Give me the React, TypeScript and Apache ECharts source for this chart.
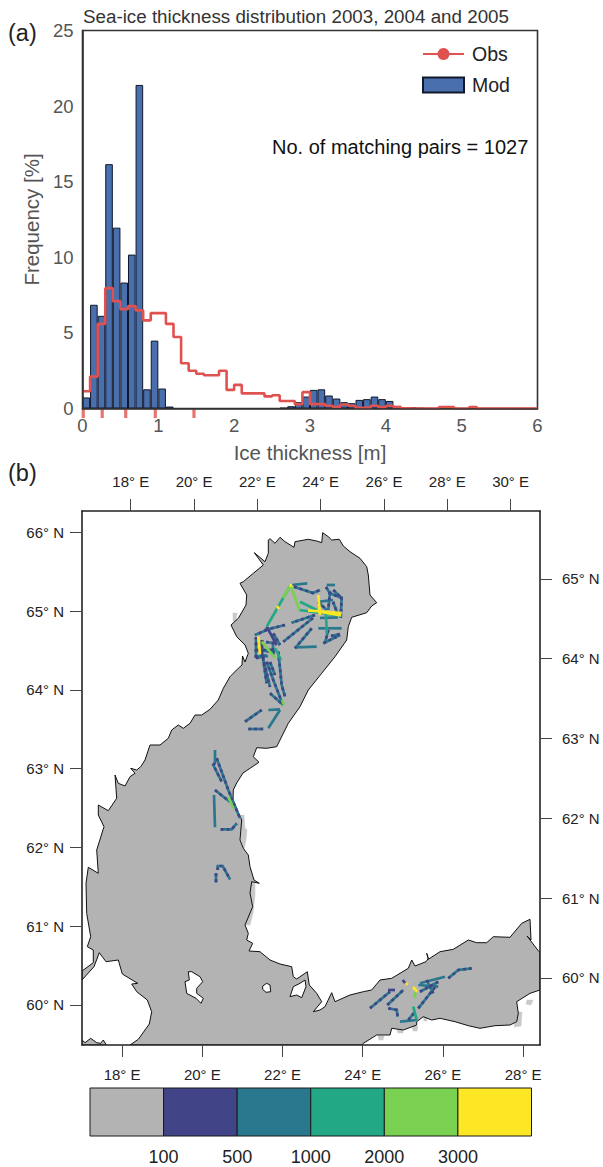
import React, { useEffect, useRef } from "react";
import * as echarts from "echarts";

const FONT = "'Liberation Sans', Arial, sans-serif";
const RED = "#e0524f";
const BLUE = "#4a6fad";

// ---------- panel (a) ----------
const binLefts = [0,0.1,0.2,0.3,0.4,0.5,0.6,0.7,0.8,0.9,1,1.1,1.2,1.3,1.4,1.5,1.6,1.7,1.8,1.9,2,2.1,2.2,2.3,2.4,2.5,2.6,2.7,2.8,2.9,3,3.1,3.2,3.3,3.4,3.5,3.6,3.7,3.8,3.9,4,4.1,4.2,4.3,4.4,4.5,4.6,4.7,4.8,4.9,5,5.1,5.2];
const modFreq = [0.73,6.86,6.13,16.16,11.96,8.33,10.18,21.4,1.27,4.49,1.32,0.13,0,0,0,0,0,0,0,0,0,0,0,0,0,0,0.04,0.15,0.42,0.79,1.23,1.27,0.86,0.66,0.42,0.35,0.57,0.62,0.79,0.62,0.5,0.17,0.06,0.09,0.02,0,0,0,0,0,0,0,0];
const obsFreq = [1.14,2.11,5.6,7.96,7.1,6.57,6.77,6.49,5.83,6.31,6.31,5.6,4.73,2.99,2.5,2.3,2.2,2.2,2.5,1.23,1.56,1,1,1,0.8,0.88,0.5,0.5,0.29,1.08,0.29,0.29,0.18,0.11,0.26,0.18,0.04,0.04,0.18,0.09,0.18,0.09,0.02,0,0,0,0,0.1,0.1,0,0,0.1,0];
const rugValues = [0.01, 0.26, 0.57, 0.96, 1.47];

// ---------- panel (b): outlines and tracks, in projected map units ----------
const lonBottomTicks = [18,20,22,24,26,28];
const lonTopTicks = [18,20,22,24,26,28,30];
const latLeftTicks = [60,61,62,63,64,65,66];
const latRightTicks = [60,61,62,63,64,65];

const seaOutline = [
[268.3,540],[270,538.7],[275,543.3],[280,537.3],[285,541.7],[294,547.3],[295,541.7],[308.3,539.3],[316.7,541],[321.7,542.7],[322.7,532.7],[328.3,536.7],[331.7,540],[339.3,539.3],[343.3,546],[350,551.7],[360,558.3],[366.7,566.7],[368.3,575],[370,595],[376.7,602.7],[371.7,606],[366.7,612.7],[351.7,617.3],[348.3,626.7],[346.7,640],[335,656.7],[321.7,673.3],[308.3,690],[300,706.7],[288.3,723.3],[276.7,746.7],[266.7,748.3],[256.7,747.7],[253.3,756.7],[259,762.3],[243,773],[236.7,783],[233.3,790],[233,800],[241.7,820],[240,840],[243.3,848.3],[248.3,855],[250,866.7],[254,880],[259.3,883.3],[251.7,881.7],[250,893],[252.7,906.7],[245,925],[248.3,933.3],[246.7,940],[252.7,943.3],[249,951],[260,951.7],[270,960],[280,964],[291.7,966.7],[293.3,976.7],[296.7,979],[307.3,971.7],[309.3,985],[316.7,993.3],[321.7,1001.7],[313.3,1011.7],[320,1010],[325,1006.7],[331.7,992.7],[335,1001.7],[350,995],[363.3,991.7],[371.7,990],[380,980],[391.7,978.3],[400,973.3],[408.3,968.3],[411.7,960],[415,966],[426,961.7],[428.3,958.3],[426.7,953.3],[428.3,959.3],[440,951.7],[453.3,949.3],[468.3,940],[476.7,942.7],[486.7,942.7],[493.3,936.7],[510,937.3],[521.7,923.3],[530,919.3],[531,940],[527,936],[539,951.7],[540,952],[540,990],[530,993.3],[516.7,1001.7],[518.3,1013.3],[516.7,1021.7],[510,1025],[495,1025.7],[480,1028.3],[468.3,1025.7],[455,1021.7],[440,1018.3],[431.7,1020],[423.3,1016.7],[416.7,1021.7],[416.7,1025],[403.3,1030],[391.7,1028.3],[390,1035],[376.7,1035],[363.3,1043.3],[362,1045],[130,1045],[138.3,1039.3],[149.3,1024],[151.7,1011.7],[147.3,1000],[136.7,991.7],[131.7,984],[137.7,983.3],[133.3,980.7],[122.3,974],[118.3,960],[106,961.7],[99.3,952.7],[94,966.7],[82,980],[82,971],[93.3,962.7],[93.3,950],[87.3,946.7],[90.7,936.7],[86.7,913.3],[86,883.3],[88.3,867.3],[98.3,873.3],[96.7,850],[104,826.7],[98.3,815],[98.3,805],[108.3,810.7],[116.7,798.3],[115,775],[118.3,783.3],[125,786],[130,776.7],[135,773.3],[130.7,768.3],[136.7,770],[140.7,766.7],[145,760],[150,745],[160,745],[168.3,738.3],[171.7,730],[178.3,725],[183.3,728.3],[190,723.3],[195,715],[201.7,715],[210,709.3],[218.3,700],[223.3,688.3],[230,676.7],[238.3,668.3],[242,665],[242.5,656],[245,662],[248.3,653.3],[245,645],[236.7,636.7],[231,625],[238.3,618.3],[246,605],[246.7,595],[240,583.3],[243.3,581.7],[253.3,573.3],[263.3,565],[254.3,552.7],[265,561.7],[268.3,553.3]
];
const seaSliver = [[82,1040],[85,1042.7],[90.7,1038.3],[96.7,1042.7],[100.7,1043.3],[103.3,1040],[106,1044.5],[106,1045],[82,1045]];
const islands = [
[[188.3,971.7],[191.7,971.7],[200,976.7],[202.7,981.7],[196.7,988.3],[196.7,993.3],[203.3,998.3],[201,1003.3],[196,998.3],[186.7,993.3],[185,981.7],[189.3,980]],
[[262.7,986],[266.7,983.3],[270,985],[270.7,991.7],[266,992.3],[262.7,989.3]],
[[290,996.7],[293.3,986.7],[300,983.3],[305,980],[306,986.7],[301.7,997.7],[296.7,995]]
];
const coastShadows = [
[[241,815],[244,815],[245,828],[247,830],[246,840],[244,850],[241,840]],
[[251,882],[255,882],[255,895],[253,913],[250,925],[246,925],[247,913]],
[[233,613],[237,613],[236,623],[233,621]],
[[516,1012],[522,1012],[521,1026],[514,1027]],
[[527,1000],[533,1000],[531,1005],[526,1004]],
[[412,1026],[418,1026],[417,1031],[413,1031]],
[[378,1036],[384,1036],[383,1040],[379,1040]],
[[397,1030],[403,1030],[403,1033],[398,1033]],
[[423,1017],[427,1017],[427,1021],[424,1021]]
];
const tracksMixed = [
[[294,586.7],[313,593],[320,590]],[[326,587],[330,593.3],[342.7,598.3]],[[341.7,597],[340.7,618]],
[[333.3,590],[341.7,598.3]],[[330,591.7],[328.3,610]],[[318,601.7],[326.7,610]],[[333,601.7],[338,615]],[[328.3,630],[325,643]],
[[315,615],[291.7,622.7]],[[313,618],[283.3,641.7]],[[311.7,628.3],[295,648.3]],[[323.3,643.3],[340,635]],
[[331,636],[340,634]],[[285,625],[265,630]],[[256,637],[256,658]],[[262,640],[262,656]],[[266,642],[273,643],[273,655]],
[[255,643],[265,645]],[[255,650],[275,652]],[[255,657],[266.7,655]],[[266.7,630],[255,635]],[[273.3,633.3],[280,645]],
[[256,658],[268,656]],[[257,650],[272,650]],[[263,658],[266.7,683.3]],[[266.7,661.7],[273.3,680],[281.7,701.7]],
[[270,662],[275,675]],[[264,662],[270,687]],
[[278.3,651.7],[281.7,685],[285,696.7]],[[270,693.3],[283.3,705]],[[245,721.7],[261.7,710]],[[248.3,729],[263.3,729]],
[[215,763],[213.3,765],[221.7,781.7]],[[216.7,758.3],[228.3,790],[240,818.3]],[[215,790],[225,798],[230,801.7]],
[[220.7,829.3],[231.7,829.3],[236.7,823.3]],[[216,873.3],[216,882.7]],[[217.7,870],[217.7,866],[222.7,866],[230,879.3]],
[[370,1008.3],[390,991.7]],[[387.3,1005],[403.3,990]],[[388.3,1008.3],[396.7,1010],[397.7,1016.7]],
[[418.3,1008.3],[436.7,985]],[[420,991.7],[438.3,981.7]],[[448.3,978.3],[458.3,970],[471.7,968.3]],
[[426.7,980],[433.3,993.3]],[[408.3,1020],[415,1011.7]]
];
const tracksTeal = [
[[291.7,585],[307.3,583.3]],[[326.7,585],[335,585]],[[320,601.7],[333,600]],[[295,647.3],[316.7,646.7]],[[318.3,628.3],[341.7,628.3]],
[[268.3,710],[280,709.3]],[[280,710],[268.3,728.3]],[[215,750],[215,763]],[[214,795],[215,827.3]],[[420,983.3],[445,976.7]],
[[400,1021.7],[416.7,1020]],[[320,618],[338,617.3]],[[418.3,985],[438.3,986.7]]
];
const tracksPurple = [[[388,990],[395,990]],[[402.7,980],[405,983]],[[266.7,626.7],[276.7,645]]];
const tracksGreenTeal = [
[[290.7,585],[266.7,626.7]],[[300,601.7],[316.7,610]],[[326,613.3],[326.7,633.3]],[[299.3,610],[341.7,616]],[[413.3,1006.7],[416.7,1020]],[[275,648],[281,660]]
];
const tracksGreen = [
[[290.7,585],[283,598]],[[290.7,585],[299.3,610]],[[261.7,641.7],[275,658]],[[228.3,796.7],[233.3,808.3]],[[415,991.7],[415,998.3]],[[282,700],[284,705]]
];
const tracksYellow = [
[[308,610.5],[341.7,613]],[[318,611.5],[341,615.5]],[[318.3,595],[320,615]],[[258.3,636.7],[260,654]],[[290.5,584],[291.5,587]],[[277,606],[279,609]],[[406,983.3],[408,984.5]],[[413,987],[417.3,991.7]]
];

// ---------- colour key ----------
const keyColors = ["#b3b3b3","#414487","#2a788e","#22a884","#7ad151","#fde725"];
const keyLabels = ["100","500","1000","2000","3000"];
const keyTicks = [1,2,3,4,5];

const polygonSeries = (polys: number[][][], fill: string, stroke: string, lw: number) => ({
  type: "custom", xAxisIndex: 1, yAxisIndex: 1, clip: true, silent: true,
  data: polys.map((p) => p[0]),
  renderItem: (params: any, api: any) => ({
    type: "polygon",
    shape: { points: polys[params.dataIndex].map((q) => api.coord(q)) },
    style: { fill, stroke, lineWidth: lw },
  }),
});

const trackSeries = (lines: number[][][], color: string, dash?: number[]) => ({
  type: "custom", xAxisIndex: 1, yAxisIndex: 1, clip: true, silent: true,
  data: lines.map((p) => p[0]),
  renderItem: (params: any, api: any) => ({
    type: "polyline",
    shape: { points: lines[params.dataIndex].map((q) => api.coord(q)) },
    style: { fill: "none", stroke: color, lineWidth: 2.7, ...(dash ? { lineDash: dash } : {}) },
  }),
});

const mapAxisBase = {
  type: "value",
  gridIndex: 2,
  z: 10,
  axisLine: { show: true, lineStyle: { color: "#222", width: 1.6 } },
  axisTick: { show: true, length: 12, lineStyle: { color: "#444", width: 1 } },
  splitLine: { show: false },
};
const lonLabel = { color: "#222", fontSize: 15, fontFamily: FONT, margin: 22, formatter: "{value}° E" };
const latLabel = { color: "#222", fontSize: 15, fontFamily: FONT, formatter: "{value}° N" };

const option: any = {
  animation: false,
  backgroundColor: "#fff",
  title: {
    text: "Sea-ice thickness distribution 2003, 2004 and 2005",
    left: 83, top: 7, padding: 0,
    textStyle: { color: "#333", fontSize: 18.8, fontWeight: "normal", fontFamily: FONT },
  },
  legend: {
    left: 417, top: 39, orient: "vertical", itemWidth: 41, itemHeight: 15, itemGap: 11,
    data: [{ name: "Obs" }, { name: "Mod", icon: "rect" }],
    textStyle: { color: "#222", fontSize: 19.5, fontFamily: FONT, padding: [0, 0, 0, 3] },
  },
  graphic: [
    { type: "text", left: 8, top: 21, style: { text: "(a)", fontSize: 23.5, fontFamily: FONT, fill: "#222" } },
    { type: "text", left: 8, top: 461, style: { text: "(b)", fontSize: 23.5, fontFamily: FONT, fill: "#222" } },
    { type: "text", left: 272, top: 137, style: { text: "No. of matching pairs = 1027", fontSize: 20, fontFamily: FONT, fill: "#111" } },
  ],
  grid: [
    { left: 82.5, top: 30.5, width: 455, height: 378, show: true, borderColor: "#333", borderWidth: 1.6, backgroundColor: "#fff" },
    { left: 82, top: 511, width: 458, height: 534 },
    { left: 82, top: 511, width: 458, height: 534 },
    { left: 90, top: 1088, width: 441.5, height: 48 },
  ],
  xAxis: [
    {
      type: "value", gridIndex: 0, min: 0, max: 6, interval: 1, z: 10,
      name: "Ice thickness [m]", nameLocation: "middle", nameGap: 33,
      nameTextStyle: { color: "#555", fontSize: 20.5, fontFamily: FONT },
      axisLine: { show: true, lineStyle: { color: "#333", width: 1.6 } },
      axisTick: { show: false }, splitLine: { show: false },
      axisLabel: { color: "#555", fontSize: 18.5, fontFamily: FONT, margin: 7 },
    },
    { type: "value", gridIndex: 1, min: 82, max: 540, show: false },
    {
      ...mapAxisBase, position: "bottom", min: 17.0, max: 28.42,
      axisTick: { ...mapAxisBase.axisTick, customValues: lonBottomTicks },
      axisLabel: { ...lonLabel, customValues: lonBottomTicks },
    },
    {
      ...mapAxisBase, position: "top", min: 16.46, max: 30.93,
      axisTick: { ...mapAxisBase.axisTick, customValues: lonTopTicks },
      axisLabel: { ...lonLabel, customValues: lonTopTicks },
    },
    {
      type: "value", gridIndex: 3, min: 0, max: 6, position: "bottom",
      axisLine: { show: false }, axisTick: { show: false }, splitLine: { show: false },
      axisLabel: { customValues: keyTicks, color: "#222", fontSize: 18, fontFamily: FONT, margin: 12,
        formatter: (v: number) => keyLabels[v - 1] },
    },
  ],
  yAxis: [
    {
      type: "value", gridIndex: 0, min: 0, max: 25, interval: 5, z: 10,
      name: "Frequency [%]", nameLocation: "middle", nameGap: 37,
      nameTextStyle: { color: "#555", fontSize: 20.5, fontFamily: FONT },
      axisLine: { show: true, lineStyle: { color: "#333", width: 1.6 } },
      axisTick: { show: false }, splitLine: { show: false },
      axisLabel: { color: "#555", fontSize: 18.5, fontFamily: FONT, margin: 9 },
    },
    { type: "value", gridIndex: 1, min: 511, max: 1045, inverse: true, show: false },
    {
      ...mapAxisBase, position: "left", min: 59.49, max: 66.27,
      axisTick: { ...mapAxisBase.axisTick, customValues: latLeftTicks },
      axisLabel: { ...latLabel, margin: 18, customValues: latLeftTicks },
    },
    {
      ...mapAxisBase, position: "right", min: 59.16, max: 65.85,
      axisTick: { ...mapAxisBase.axisTick, customValues: latRightTicks },
      axisLabel: { ...latLabel, margin: 22, customValues: latRightTicks },
    },
    { type: "value", gridIndex: 3, min: 0, max: 1, show: false },
  ],
  series: [
    {
      name: "Mod", type: "bar", xAxisIndex: 0, yAxisIndex: 0, barWidth: 7.6,
      data: binLefts.map((x, i) => [x + 0.05, modFreq[i]]).filter((d) => d[1] > 0),
      itemStyle: { color: BLUE, borderColor: "#10182a", borderWidth: 1 },
    },
    {
      name: "Obs", type: "line", xAxisIndex: 0, yAxisIndex: 0, step: "end", showSymbol: false, symbol: "none",
      data: [...binLefts.map((x, i) => [x, obsFreq[i]]), [6, 0]],
      lineStyle: { color: RED, width: 2.6 }, itemStyle: { color: RED }, z: 4,
    },
    {
      type: "scatter", xAxisIndex: 0, yAxisIndex: 0, clip: false, silent: true,
      symbol: "rect", symbolSize: [3.2, 9], symbolOffset: [0, 5],
      data: rugValues.map((x) => [x, 0]), itemStyle: { color: RED }, z: 5,
    },
    polygonSeries(coastShadows, "#c9c9c9", "#c9c9c9", 0.5),
    polygonSeries([seaOutline, seaSliver], "#b3b3b3", "#111", 1),
    polygonSeries(islands, "#fff", "#111", 1),
    trackSeries(tracksMixed, keyColors[2]),
    trackSeries(tracksTeal, keyColors[2]),
    trackSeries(tracksMixed, keyColors[1], [2.7, 3.3]),
    trackSeries(tracksPurple, keyColors[1]),
    trackSeries(tracksGreenTeal, keyColors[3]),
    trackSeries(tracksGreen, keyColors[4]),
    trackSeries(tracksYellow, keyColors[5]),
    {
      type: "custom", xAxisIndex: 4, yAxisIndex: 4, silent: true,
      data: keyColors.map((c, i) => [i, 0]),
      renderItem: (params: any, api: any) => {
        const a = api.coord([params.dataIndex, 1]);
        const b = api.coord([params.dataIndex + 1, 0]);
        return {
          type: "rect",
          shape: { x: a[0], y: a[1], width: b[0] - a[0], height: b[1] - a[1] },
          style: { fill: keyColors[params.dataIndex], stroke: "#1a1a1a", lineWidth: 1 },
        };
      },
    },
  ],
};

export default function App() {
  const ref = useRef<HTMLDivElement>(null);
  useEffect(() => {
    document.body.style.margin = "0";
    const chart = echarts.init(ref.current!, undefined, { renderer: "svg" });
    chart.setOption(option);
    return () => chart.dispose();
  }, []);
  return <div ref={ref} style={{ width: 603, height: 1167 }} />;
}
